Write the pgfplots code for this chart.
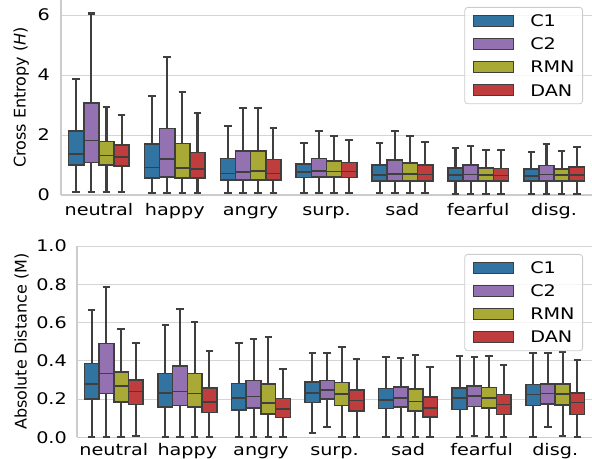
\documentclass[border=0pt]{standalone}
\usepackage{fontspec}
\setmainfont{DejaVu Sans}[ItalicFont={DejaVu Sans Oblique}]
\usepackage{pgfplots}
\usepackage{pgfplotstable}
\pgfplotsset{compat=1.18}
\usepgfplotslibrary{statistics}

\definecolor{cOne}{HTML}{3274A1}
\definecolor{cTwo}{HTML}{9472B2}
\definecolor{cRMN}{HTML}{A9AA35}
\definecolor{cDAN}{HTML}{C03D3E}
\definecolor{edgegray}{HTML}{3F3F3F}
\definecolor{gridgray}{HTML}{D5D5D5}
\definecolor{spinegray}{HTML}{CCCCCC}

\newcommand{\hs}[1]{\scalebox{1.2}[1]{#1}}
\newcommand{\labfont}{\fontsize{16bp}{19bp}\selectfont}

% Cross entropy: lower whisker, lower quartile, median, upper quartile, upper whisker
% rows: neutral, happy, angry, surp., sad, fearful, disg.
\pgfplotstableread{
lw   lq   med  uq   uw
0.11 1.00 1.37 2.14 3.86
0.07 0.56 0.91 1.69 3.31
0.07 0.49 0.71 1.21 2.30
0.07 0.58 0.76 1.04 1.74
0.07 0.47 0.67 0.99 1.74
0.03 0.46 0.66 0.89 1.56
0.03 0.46 0.63 0.86 1.42
}\ceOne
\pgfplotstableread{
lw   lq   med  uq   uw
0.11 1.08 1.81 3.06 6.05
0.07 0.59 1.20 2.22 4.61
0.07 0.49 0.76 1.47 2.91
0.07 0.60 0.80 1.21 2.13
0.07 0.47 0.70 1.16 2.14
0.03 0.47 0.68 0.99 1.62
0.03 0.47 0.68 0.98 1.71
}\ceTwo
\pgfplotstableread{
lw   lq   med  uq   uw
0.11 0.99 1.32 1.78 2.94
0.07 0.56 0.90 1.72 3.44
0.07 0.49 0.79 1.47 2.91
0.07 0.59 0.78 1.13 1.97
0.07 0.47 0.69 1.07 1.97
0.03 0.46 0.66 0.89 1.49
0.03 0.47 0.66 0.87 1.48
}\ceRMN
\pgfplotstableread{
lw   lq   med  uq   uw
0.11 0.96 1.27 1.66 2.67
0.07 0.56 0.86 1.41 2.72
0.07 0.49 0.72 1.18 2.22
0.07 0.58 0.78 1.08 1.82
0.07 0.47 0.68 0.99 1.77
0.03 0.46 0.65 0.88 1.51
0.03 0.47 0.67 0.93 1.60
}\ceDAN

% Absolute distance
\pgfplotstableread{
lw    lq    med   uq    uw
0.000 0.199 0.279 0.385 0.667
0.000 0.159 0.232 0.334 0.585
0.000 0.143 0.204 0.282 0.495
0.023 0.181 0.233 0.289 0.441
0.000 0.150 0.195 0.256 0.420
0.000 0.146 0.204 0.258 0.427
0.000 0.166 0.223 0.277 0.443
}\adOne
\pgfplotstableread{
lw    lq    med   uq    uw
0.000 0.228 0.333 0.491 0.784
0.000 0.166 0.239 0.373 0.672
0.000 0.152 0.213 0.296 0.516
0.054 0.199 0.246 0.296 0.443
0.000 0.157 0.207 0.263 0.416
0.009 0.162 0.216 0.268 0.420
0.052 0.174 0.228 0.280 0.439
}\adTwo
\pgfplotstableread{
lw    lq    med   uq    uw
0.000 0.186 0.267 0.341 0.564
0.000 0.159 0.230 0.334 0.601
0.000 0.122 0.179 0.280 0.523
0.000 0.166 0.225 0.286 0.470
0.000 0.138 0.188 0.253 0.430
0.000 0.152 0.204 0.260 0.427
0.007 0.169 0.225 0.280 0.448
}\adRMN
\pgfplotstableread{
lw    lq    med   uq    uw
0.005 0.171 0.239 0.300 0.491
0.000 0.129 0.186 0.258 0.449
0.000 0.103 0.148 0.202 0.359
0.000 0.138 0.193 0.247 0.411
0.000 0.105 0.153 0.211 0.369
0.000 0.120 0.171 0.223 0.376
0.000 0.120 0.181 0.232 0.402
}\adDAN

\pgfplotsset{
  emo/.style={
    scale only axis,
    xmin=-0.5, xmax=6.5,
    axis x line*=bottom, axis y line*=left,
    axis line style={-, draw=spinegray, line width=1.1bp},
    every outer x axis line/.append style={-},
    every outer y axis line/.append style={-},
    major tick length=0pt,
    tick style={draw=none},
    ymajorgrids, xmajorgrids=false,
    grid style={draw=gridgray, line width=0.9bp},
    xtick={0,...,6},
    xticklabels={\hs{neutral},\hs{happy},\hs{angry},\hs{surp.},\hs{sad},\hs{fearful},\hs{disg.}},
    tick label style={font=\labfont},
    legend style={
      at={(rel axis cs:1,1)}, anchor=north east,
      draw=spinegray, line width=0.8bp, rounded corners=3bp,
      fill=white, fill opacity=0.8, text opacity=1,
      inner xsep=8bp, inner ysep=7.5bp, row sep=11bp,
      font=\labfont,
      nodes={inner sep=0pt, text height=11.5bp, text depth=0bp},
    },
    legend cell align=left,
  },
  bx/.style={draw=edgegray, line width=1.6bp, solid,
    boxplot/every box/.style={draw=edgegray, line width=1.6bp},
    boxplot/every whisker/.style={draw=edgegray, line width=2.1bp},
    boxplot/every median/.style={draw=edgegray, line width=1.6bp}},
  legpatch/.style={legend image code/.code={
    \draw[##1, draw=edgegray, line width=1.1bp, sharp corners,
      fill opacity=1, draw opacity=1] (0bp,-5.5bp) rectangle (40bp,5.5bp);
    \path[draw=none, fill=none] (0bp,0bp) -- (57bp,0bp);}},
}

% one box: #1 table, #2 row, #3 draw position, #4 fill colour
\newcommand{\boxrow}[4]{%
  \pgfplotstablegetelem{#2}{lw}\of#1\let\vlw\pgfplotsretval
  \pgfplotstablegetelem{#2}{lq}\of#1\let\vlq\pgfplotsretval
  \pgfplotstablegetelem{#2}{med}\of#1\let\vmed\pgfplotsretval
  \pgfplotstablegetelem{#2}{uq}\of#1\let\vuq\pgfplotsretval
  \pgfplotstablegetelem{#2}{uw}\of#1\let\vuw\pgfplotsretval
  \edef\doplot{\noexpand\addplot[bx, fill=#4, forget plot,
    boxplot prepared={draw direction=y, draw position=#3,
      box extend=0.2, whisker extend=0.1,
      lower whisker=\vlw, lower quartile=\vlq,
      median=\vmed, upper quartile=\vuq, upper whisker=\vuw}] coordinates {};}%
  \doplot
}

\begin{document}
\begin{tikzpicture}
\useasboundingbox (0bp,0bp) rectangle (592bp,459bp);

% upper panel: cross entropy
\begin{axis}[emo,
  at={(61bp,264bp)}, anchor=south west,
  width=531bp, height=195bp,
  ymin=0, ymax=6.5,
  ytick={0,2,4,6},
  yticklabels={\hs{0},\hs{2},\hs{4},\hs{6}},
  yticklabel style={anchor=east, inner sep=0pt, xshift=-11bp},
  xticklabel style={anchor=base, inner sep=0pt, yshift=-20.7bp},
  ylabel={Cross Entropy (\textit{H})},
  ylabel style={at={([xshift=-35.5bp]rel axis cs:0,0.5)}, rotate=0, anchor=base, font=\labfont},
  legend style={xshift=-9bp, yshift=-7bp},
]
\pgfplotsinvokeforeach{0,...,6}{
  \boxrow{\ceOne}{#1}{#1-0.3}{cOne}
  \boxrow{\ceTwo}{#1}{#1-0.1}{cTwo}
  \boxrow{\ceRMN}{#1}{#1+0.1}{cRMN}
  \boxrow{\ceDAN}{#1}{#1+0.3}{cDAN}
}
\addlegendimage{legpatch, fill=cOne}\addlegendentry{\hs{C1}}
\addlegendimage{legpatch, fill=cTwo}\addlegendentry{\hs{C2}}
\addlegendimage{legpatch, fill=cRMN}\addlegendentry{\hs{RMN}}
\addlegendimage{legpatch, fill=cDAN}\addlegendentry{\hs{DAN}}
\end{axis}

% lower panel: absolute distance
\begin{axis}[emo,
  at={(77bp,21.7bp)}, anchor=south west,
  width=515bp, height=191.3bp,
  ymin=0, ymax=1,
  ytick={0,0.2,0.4,0.6,0.8,1.0},
  yticklabels={\hs{0.0},\hs{0.2},\hs{0.4},\hs{0.6},\hs{0.8},\hs{1.0}},
  yticklabel style={anchor=east, inner sep=0pt, xshift=-10bp},
  xticklabel style={anchor=base, inner sep=0pt, yshift=-18.4bp},
  ylabel={Absolute Distance (M)},
  ylabel style={at={([xshift=-50.3bp]rel axis cs:0,0.5)}, rotate=0, anchor=base, font=\labfont},
  legend style={xshift=-9bp, yshift=-8bp},
]
\pgfplotsinvokeforeach{0,...,6}{
  \boxrow{\adOne}{#1}{#1-0.3}{cOne}
  \boxrow{\adTwo}{#1}{#1-0.1}{cTwo}
  \boxrow{\adRMN}{#1}{#1+0.1}{cRMN}
  \boxrow{\adDAN}{#1}{#1+0.3}{cDAN}
}
\addlegendimage{legpatch, fill=cOne}\addlegendentry{\hs{C1}}
\addlegendimage{legpatch, fill=cTwo}\addlegendentry{\hs{C2}}
\addlegendimage{legpatch, fill=cRMN}\addlegendentry{\hs{RMN}}
\addlegendimage{legpatch, fill=cDAN}\addlegendentry{\hs{DAN}}
\end{axis}
\end{tikzpicture}
\end{document}
